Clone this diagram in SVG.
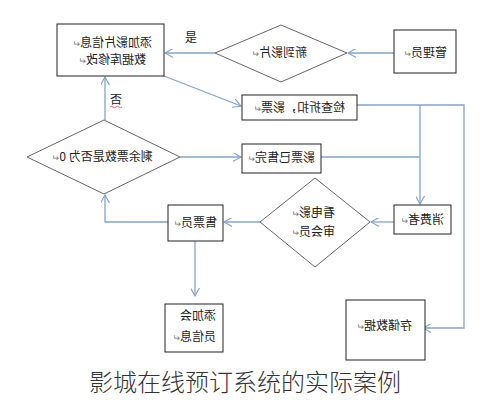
<svg xmlns="http://www.w3.org/2000/svg" width="504" height="400" viewBox="0 0 504 400">
<style>
.box{fill:#fff;stroke:#222;stroke-width:1}
.dia{fill:#fff;stroke:#666;stroke-width:1}
.con{fill:none;stroke:#86a3cc;stroke-width:1.3}
.t{font-family:"Noto Sans CJK SC","Noto Sans",sans-serif;font-size:12px;fill:#222}
.m{font-size:9px;fill:#777}
.lbl{font-family:"Noto Sans CJK SC",sans-serif;font-size:12px;fill:#222}
.title{font-family:"Noto Sans CJK SC",sans-serif;font-size:24px;font-weight:300;fill:#333}
</style>
<defs>
<marker id="arr" viewBox="0 0 10 10" refX="9" refY="5" markerWidth="9" markerHeight="9" markerUnits="userSpaceOnUse" orient="auto">
<path d="M0,0 L9,5 L0,10" fill="none" stroke="#86a3cc" stroke-width="1.3"/>
</marker>
</defs>
<rect width="504" height="400" fill="#fff"/>
<g id="connectors">
<line class="con" x1="394" y1="53" x2="348" y2="53" marker-end="url(#arr)"/>
<line class="con" x1="215" y1="53" x2="165" y2="53" marker-end="url(#arr)"/>
<line class="con" x1="164" y1="76" x2="241" y2="106" marker-end="url(#arr)"/>
<line class="con" x1="105" y1="120" x2="105" y2="77" marker-end="url(#arr)"/>
<line class="con" x1="180" y1="157" x2="241" y2="157" marker-end="url(#arr)"/>
<polyline class="con" points="321,157 420,157"/>
<polyline class="con" points="357,105 464,105 464,328 423,328" marker-end="url(#arr)"/>
<line class="con" x1="420" y1="105" x2="420" y2="204" marker-end="url(#arr)"/>
<line class="con" x1="394" y1="222" x2="371" y2="222" marker-end="url(#arr)"/>
<line class="con" x1="260" y1="222" x2="224" y2="222" marker-end="url(#arr)"/>
<polyline class="con" points="168,222 105,222 105,195" marker-end="url(#arr)"/>
<line class="con" x1="195" y1="241" x2="195" y2="296" marker-end="url(#arr)"/>
<text class="lbl" x="185" y="42">是</text>
<text class="lbl" x="110" y="104">否</text>
<path d="M110,107 q1.5,-1.5 3,0 t3,0 t3,0 t3,0" fill="none" stroke="#e04040" stroke-width="0.8"/>
</g>
<g id="n-addfilm">
<rect class="box" x="57" y="24" width="107" height="52"/>
<g transform="scale(-1,1)">
<text class="t" x="-112" y="47" text-anchor="middle">添加影片信息<tspan class="m">↵</tspan></text>
<text class="t" x="-112" y="64" text-anchor="middle">数据库修改<tspan class="m">↵</tspan></text>
</g>
</g>
<g id="n-newfilm">
<polygon class="dia" points="215,53 281,25 347,53 281,82"/>
<g transform="scale(-1,1)"><text class="t" x="-279" y="57" text-anchor="middle">新到影片<tspan class="m">↵</tspan></text></g>
</g>
<g id="n-admin">
<rect class="box" x="394" y="30" width="62" height="43"/>
<g transform="scale(-1,1)"><text class="t" x="-425" y="57" text-anchor="middle">管理员<tspan class="m">↵</tspan></text></g>
</g>
<g id="n-check">
<rect class="box" x="242" y="95" width="115" height="25"/>
<g transform="scale(-1,1)"><text class="t" x="-299" y="112" text-anchor="middle">检查折扣，影票<tspan class="m">↵</tspan></text></g>
</g>
<g id="n-remain">
<polygon class="dia" points="27,157 104,120 180,157 104,194"/>
<g transform="scale(-1,1)"><text class="t" x="-102" y="161" text-anchor="middle">剩余票数是否为 0<tspan class="m">↵</tspan></text></g>
</g>
<g id="n-soldout">
<rect class="box" x="242" y="144" width="79" height="29"/>
<g transform="scale(-1,1)"><text class="t" x="-281" y="162" text-anchor="middle">影票已售完<tspan class="m">↵</tspan></text></g>
</g>
<g id="n-member">
<polygon class="dia" points="260,222 315,178 370,222 315,267"/>
<g transform="scale(-1,1)">
<text class="t" x="-335" y="217" text-anchor="start">看电影<tspan class="m">↵</tspan></text>
<text class="t" x="-335" y="236" text-anchor="start">审会员<tspan class="m">↵</tspan></text>
</g>
</g>
<g id="n-consumer">
<rect class="box" x="394" y="205" width="57" height="29"/>
<g transform="scale(-1,1)"><text class="t" x="-422" y="224" text-anchor="middle">消费者<tspan class="m">↵</tspan></text></g>
</g>
<g id="n-seller">
<rect class="box" x="168" y="205" width="55" height="36"/>
<g transform="scale(-1,1)"><text class="t" x="-195" y="227" text-anchor="middle">售票员<tspan class="m">↵</tspan></text></g>
</g>
<g id="n-addmember">
<rect class="box" x="165" y="304" width="58" height="48"/>
<g transform="scale(-1,1)">
<text class="t" x="-216" y="320" text-anchor="start">添加会</text>
<text class="t" x="-216" y="341" text-anchor="start">员信息<tspan class="m">↵</tspan></text>
</g>
</g>
<g id="n-store">
<rect class="box" x="346" y="300" width="79" height="60"/>
<g transform="scale(-1,1)"><text class="t" x="-384" y="330" text-anchor="middle">存储数据<tspan class="m">↵</tspan></text></g>
</g>
<text class="title" x="245" y="391" text-anchor="middle">影城在线预订系统的实际案例</text>
</svg>
